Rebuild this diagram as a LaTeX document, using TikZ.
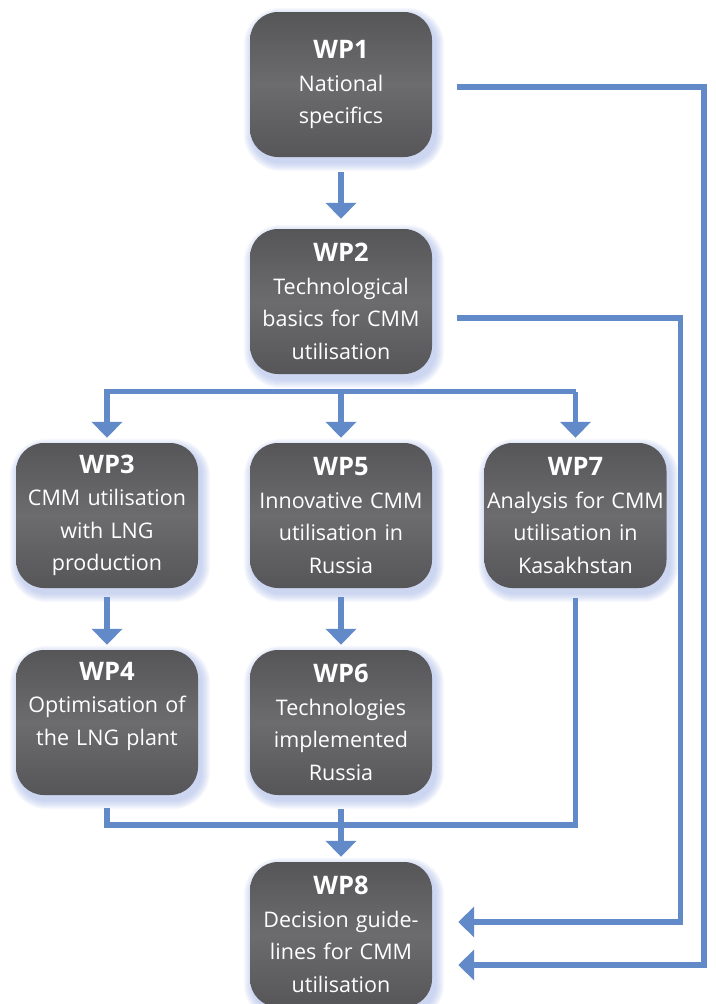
\documentclass[tikz,border=0pt]{standalone}
\usepackage{fontspec}
\setmainfont{Open Sans}
\usetikzlibrary{arrows.meta,backgrounds}
\definecolor{linkblue}{RGB}{99,138,200}
\definecolor{glowc}{RGB}{150,170,225}
\definecolor{boxedge}{RGB}{86,86,88}
\definecolor{boxmid}{RGB}{108,108,110}
\begin{document}
\begin{tikzpicture}[x=1pt,y=-1pt,
  wpbox/.style={rounded corners=28pt, minimum width=182pt, minimum height=145pt,
    top color=boxedge, bottom color=boxedge, middle color=boxmid,
    text=white, align=center, inner sep=0pt, text width=182pt,
    font=\fontsize{21.5}{32.5}\selectfont},
  link/.style={draw=linkblue, line width=5.5pt, miter limit=10},
  arr/.style={link, -{Triangle[width=30pt,length=16pt]}},
]
\useasboundingbox (0,0) rectangle (715,1004);
\newcommand{\wpt}[1]{{\fontsize{25.5}{38}\selectfont\bfseries #1}}
\node[wpbox] (wp1) at (341,84.5) {\wpt{WP1}\\National\\specifics};
\node[wpbox] (wp2) at (341,301.5) {\wpt{WP2}\\Technological\\basics for CMM\\utilisation};
\node[wpbox] (wp3) at (107,515.5) {\wpt{WP3}\\CMM utilisation\\with LNG\\production};
\node[wpbox] (wp5) at (341,515.5) {\wpt{WP5}\\Innovative CMM\\utilisation in\\Russia};
\node[wpbox] (wp7) at (575.5,515.5) {\wpt{WP7}\\Analysis for CMM\\utilisation in\\Kasakhstan};
\node[wpbox] (wp4) at (107,722.5) {\wpt{WP4}\\Optimisation of\\the LNG plant\\\vphantom{g}};
\node[wpbox] (wp6) at (341,722.5) {\wpt{WP6}\\Technologies\\implemented\\Russia};
\node[wpbox] (wp8) at (341,934.5) {\wpt{WP8}\\Decision guide-\\lines for CMM\\utilisation};

\begin{pgfonlayer}{background}
\foreach \n in {wp1,wp2,wp3,wp4,wp5,wp6,wp7,wp8}{
  \foreach \r in {1,...,9}{
    \fill[glowc, opacity=0.07, rounded corners=28pt+\r pt]
      ([shift={(3-\r,5-\r)}]\n.north west) rectangle ([shift={(3+\r,5+\r)}]\n.south east);
  }
}
\end{pgfonlayer}

\coordinate (b1) at (341,391.5);
\coordinate (b2) at (341,825);
\coordinate (c1) at (704,87);
\coordinate (c1b) at (704,965);
\coordinate (c2) at (680.5,318);
\coordinate (c2b) at (680.5,922);

\draw[arr, shorten <=15pt, shorten >=10pt] (wp1.south) -- (wp2.north);
\draw[arr, shorten >=5pt] (b1 -| wp7.north) -- (b1 -| wp3.north) -- (wp3.north);
\draw[arr, shorten >=5pt] (b1) -- (wp5.north);
\draw[arr, shorten >=5pt] (b1 -| wp7.north) -- (wp7.north);
\draw[arr, shorten <=9pt, shorten >=5pt] (wp3.south) -- (wp4.north);
\draw[arr, shorten <=9pt, shorten >=5pt] (wp5.south) -- (wp6.north);
\draw[link, shorten <=10pt, shorten >=13pt] (wp7.south) -- (wp7.south |- b2) -- (wp4.south |- b2) -- (wp4.south);
\draw[arr, shorten <=14pt, shorten >=5pt] (wp6.south) -- (wp8.north);
\draw[arr, shorten <=25pt, shorten >=26pt] (wp1.east |- c1) -- (c1) -- (c1b) -- (c1b -| wp8.east);
\draw[arr, shorten <=25pt, shorten >=26pt] (wp2.east |- c2) -- (c2) -- (c2b) -- (c2b -| wp8.east);
\end{tikzpicture}
\end{document}
